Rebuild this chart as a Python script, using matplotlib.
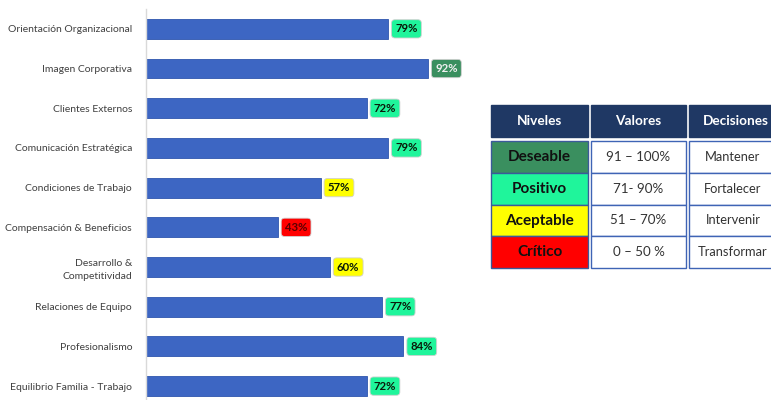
import numpy as np
import matplotlib
matplotlib.use("Agg")
import matplotlib.pyplot as plt
from matplotlib.patches import Rectangle

plt.rcParams['font.family'] = ['Lato', 'DejaVu Sans']

categories = ["Orientación Organizacional", "Imagen Corporativa", "Clientes Externos",
              "Comunicación Estratégica", "Condiciones de Trabajo",
              "Compensación & Beneficios", "Desarrollo &\nCompetitividad",
              "Relaciones de Equipo", "Profesionalismo", "Equilibrio Familia - Trabajo"]
values = [79, 92, 72, 79, 57, 43, 60, 77, 84, 72]

niveles = ["Deseable", "Positivo", "Aceptable", "Crítico"]
rangos = ["91 – 100%", "71- 90%", "51 – 70%", "0 – 50 %"]
decisiones = ["Mantener", "Fortalecer", "Intervenir", "Transformar"]
headers = ["Niveles", "Valores", "Decisiones"]
nivel_colors = ["#3a8f5f", "#1ff59b", "#ffff00", "#ff0000"]
nivel_text = ["#0a1a0a", "#0a1a0a", "#0a1a0a", "#5a0000"]
limits = [91, 71, 51, 0]


def level_of(v):
    for i, lim in enumerate(limits):
        if v >= lim:
            return i
    return len(limits) - 1


W, H = 771, 400
fig = plt.figure(figsize=(W / 100, H / 100), dpi=100)

# bar chart
ax = fig.add_axes([146 / W, 0, 306.5 / W, 391 / H])
y = np.arange(len(categories))
ax.barh(y, values, height=0.5, color="#3d66c3", edgecolor="#2f55ad", linewidth=0.6)
ax.set_xlim(0, 100)
ax.set_ylim(9.35, -0.5)
ax.set_yticks(y)
ax.set_yticklabels(categories, fontsize=7.5, color="#404040", linespacing=1.5)
ax.tick_params(axis="y", length=0, pad=10)
ax.set_xticks([])
for s in ["top", "right", "bottom"]:
    ax.spines[s].set_visible(False)
ax.spines["left"].set_color("#d9d9d9")
ax.spines["left"].set_linewidth(1.0)

for yi, v in zip(y, values):
    lv = level_of(v)
    tc = "#f0f0f0" if lv == 0 else nivel_text[lv]
    ax.text(v + 2.3, yi, f"{v}%", ha="left", va="center", fontsize=8.2,
            fontweight="bold", color=tc, clip_on=False,
            bbox=dict(boxstyle="round,pad=0.32,rounding_size=0.3",
                      facecolor=nivel_colors[lv], edgecolor="#d0d0d0", linewidth=0.6))

# legend table (pixel layout)
col_x = [491, 591, 689]
col_w = [97, 95, 90]
head_top, head_bot = 105, 137
row_top = 141
row_h = 31.8


def px_rect(x0, y0, w, h, fc, ec, lw=1.0):
    fig.patches.append(Rectangle((x0 / W, 1 - (y0 + h) / H), w / W, h / H,
                                 transform=fig.transFigure, facecolor=fc,
                                 edgecolor=ec, linewidth=lw, zorder=1))


def px_text(x, yy, s, **kw):
    fig.text(x / W, 1 - yy / H, s, ha="center", va="center", **kw)


for cx, cw, hd in zip(col_x, col_w, headers):
    px_rect(cx, head_top, cw, head_bot - head_top, "#1f3864", "#1f3864")
    px_text(cx + cw / 2 + (2 if hd == "Decisiones" else 0), (head_top + head_bot) / 2,
            hd, fontsize=9.8, fontweight="bold", color="white")

for i in range(len(niveles)):
    yy = row_top + i * row_h
    px_rect(col_x[0], yy, col_w[0], row_h, nivel_colors[i], "#3b5a9a", 1.0)
    px_text(col_x[0] + col_w[0] / 2, yy + row_h / 2, niveles[i], fontsize=11,
            fontweight="bold", color="#111111")
    px_rect(col_x[1], yy, col_w[1], row_h, "white", "#3f64b5", 1.0)
    px_text(col_x[1] + col_w[1] / 2, yy + row_h / 2, rangos[i], fontsize=9.6,
            color="#333333")
    px_rect(col_x[2], yy, col_w[2], row_h, "white", "#3f64b5", 1.0)
    px_text(col_x[2] + 44, yy + row_h / 2, decisiones[i], fontsize=9.3,
            color="#333333")

fig.savefig("out.png", dpi=100)
